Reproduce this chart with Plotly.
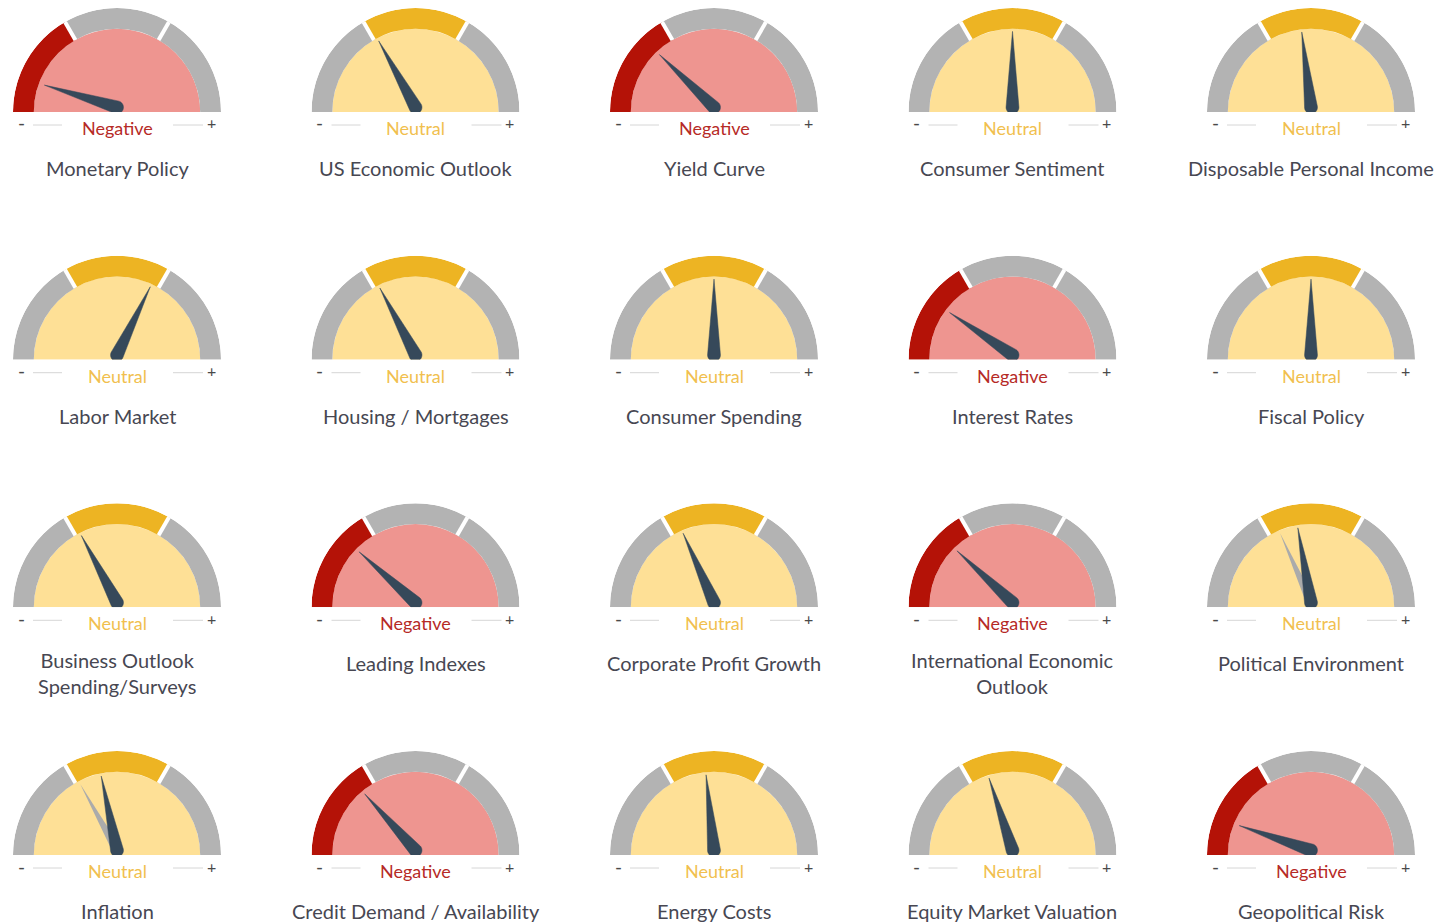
import math
import plotly.graph_objects as go

# ---------------- data ----------------
titles = [
    "Monetary Policy", "US Economic Outlook", "Yield Curve", "Consumer Sentiment", "Disposable Personal Income",
    "Labor Market", "Housing / Mortgages", "Consumer Spending", "Interest Rates", "Fiscal Policy",
    "Business Outlook\nSpending/Surveys", "Leading Indexes", "Corporate Profit Growth", "International Economic\nOutlook", "Political Environment",
    "Inflation", "Credit Demand / Availability", "Energy Costs", "Equity Market Valuation", "Geopolitical Risk",
]
status = [
    "Negative", "Neutral", "Negative", "Neutral", "Neutral",
    "Neutral", "Neutral", "Neutral", "Negative", "Neutral",
    "Neutral", "Negative", "Neutral", "Negative", "Neutral",
    "Neutral", "Negative", "Neutral", "Neutral", "Negative",
]
# needle position in degrees, 0 = far left (-), 180 = far right (+)
needle = [
    17, 61, 44, 90, 83,
    116, 62, 90, 34, 90,
    62, 42, 66, 43, 80,
    78, 48, 84, 72, 19,
]
# previous reading (grey needle), None when not shown
previous = [
    None, None, None, None, None,
    None, None, None, None, None,
    None, None, None, None, 66,
    61, None, None, None, None,
]
segment_centers = [30, 90, 150]
segment_names = ["Negative", "Neutral", "Positive"]

# ---------------- style / layout ----------------
W, H = 1443, 922
R = 104
col_x = [117, 415.5, 714, 1012.5, 1311]
row_base = [112, 359.7, 607.3, 855]

band_active = {"Negative": "#B41207", "Neutral": "#EDB423"}
fill_col = {"Negative": "#EE9590", "Neutral": "#FEE096"}
text_col = {"Negative": "#B62A26", "Neutral": "#F1BF4F"}
GREY_BAND = "#B3B3B3"
NEEDLE = "#36495A"
OLD_NEEDLE = "#ABABAB"
FONT = "Lato"
PIVOT_Y = 0.045   # needle pivot sits slightly above the gauge baseline (units of R)


def needle_poly(v, L=0.73, b=0.062, n=30):
    """Needle outline (tip + round base) in this gauge's polar coordinates."""
    a = math.radians(v)
    dx, dy = -math.cos(a), math.sin(a)          # direction of the tip
    pts = [(L * dx, PIVOT_Y + L * dy)]
    base_dir = math.atan2(dy, dx)
    for k in range(n + 1):
        phi = base_dir + math.pi / 2 + k * math.pi / n
        pts.append((b * math.cos(phi), PIVOT_Y + b * math.sin(phi)))
    pts.append(pts[0])
    rr = [math.hypot(x, y) for x, y in pts]
    th = [math.degrees(math.atan2(y, -x)) for x, y in pts]
    return rr, th


fig = go.Figure()
annotations = []
shapes = []

for i, title in enumerate(titles):
    row, col = divmod(i, 5)
    cx, by = col_x[col], row_base[row]
    sp = "polar" if i == 0 else f"polar{i + 1}"
    st = status[i]

    # inner half-disc
    fig.add_trace(go.Barpolar(r=[0.8], base=[0], theta=[90], width=[180],
                              marker=dict(color=fill_col[st], line=dict(width=0)),
                              subplot=sp, hoverinfo="skip", showlegend=False))
    # outer band segments
    seg_cols = [band_active[st] if name == st else GREY_BAND for name in segment_names]
    fig.add_trace(go.Barpolar(r=[0.2] * 3, base=[0.8] * 3, theta=segment_centers, width=[60] * 3,
                              marker=dict(color=seg_cols, line=dict(width=0)),
                              subplot=sp, hoverinfo="skip", showlegend=False))
    # white separators
    for a in (60, 120):
        fig.add_trace(go.Scatterpolar(r=[0.8, 1.03], theta=[a, a], mode="lines",
                                      line=dict(color="white", width=4),
                                      subplot=sp, hoverinfo="skip", showlegend=False, cliponaxis=False))
    # previous needle
    if previous[i] is not None:
        rr, th = needle_poly(previous[i], b=0.045)
        fig.add_trace(go.Scatterpolar(r=rr, theta=th, mode="lines", fill="toself",
                                      fillcolor=OLD_NEEDLE, line=dict(width=0, color=OLD_NEEDLE),
                                      subplot=sp, hoverinfo="skip", showlegend=False, cliponaxis=False))
    # needle
    rr, th = needle_poly(needle[i])
    fig.add_trace(go.Scatterpolar(r=rr, theta=th, mode="lines", fill="toself",
                                  fillcolor=NEEDLE, line=dict(width=0.5, color=NEEDLE),
                                  subplot=sp, hoverinfo="skip", showlegend=False, cliponaxis=False))

    fig.update_layout({sp: dict(
        domain=dict(x=[(cx - R) / W, (cx + R) / W], y=[1 - by / H, 1 - (by - R) / H]),
        sector=[0, 180], hole=0, bgcolor="rgba(0,0,0,0)", barmode="overlay", bargap=0,
        radialaxis=dict(visible=False, range=[0, 1]),
        angularaxis=dict(visible=False, rotation=180, direction="clockwise"),
    )})

    # status label
    annotations.append(dict(x=cx / W, y=1 - (by + 16) / H, xref="paper", yref="paper",
                            text=st, showarrow=False, xanchor="center", yanchor="middle",
                            font=dict(family=FONT, size=18, color=text_col[st])))
    # - and + markers
    annotations.append(dict(x=(cx - 96) / W, y=1 - (by + 11) / H, xref="paper", yref="paper",
                            text="-", showarrow=False, xanchor="center", yanchor="middle",
                            font=dict(family=FONT, size=19, color="#4A4A4A")))
    annotations.append(dict(x=(cx + 94) / W, y=1 - (by + 11) / H, xref="paper", yref="paper",
                            text="+", showarrow=False, xanchor="center", yanchor="middle",
                            font=dict(family=FONT, size=16, color="#4A4A4A")))
    for x0, x1 in ((cx - 84, cx - 55), (cx + 56, cx + 86)):
        shapes.append(dict(type="line", xref="paper", yref="paper",
                           x0=x0 / W, x1=x1 / W, y0=1 - (by + 13) / H, y1=1 - (by + 13) / H,
                           line=dict(color="#D6D6D6", width=1)))
    # title (possibly two lines)
    lines = title.split("\n")
    ty = by + 56 + 10 * (len(lines) - 1)
    annotations.append(dict(x=cx / W, y=1 - ty / H, xref="paper", yref="paper",
                            text="<br>".join(lines), showarrow=False, xanchor="center", yanchor="middle",
                            align="center",
                            font=dict(family=FONT, size=20, color="#474752")))

fig.update_layout(width=W, height=H, margin=dict(l=0, r=0, t=0, b=0),
                  paper_bgcolor="white", plot_bgcolor="white",
                  annotations=annotations, shapes=shapes, showlegend=False)

fig.write_html("out.html", config={"displayModeBar": False},
               post_script="document.body.style.margin='0px';document.body.style.overflow='hidden';")
